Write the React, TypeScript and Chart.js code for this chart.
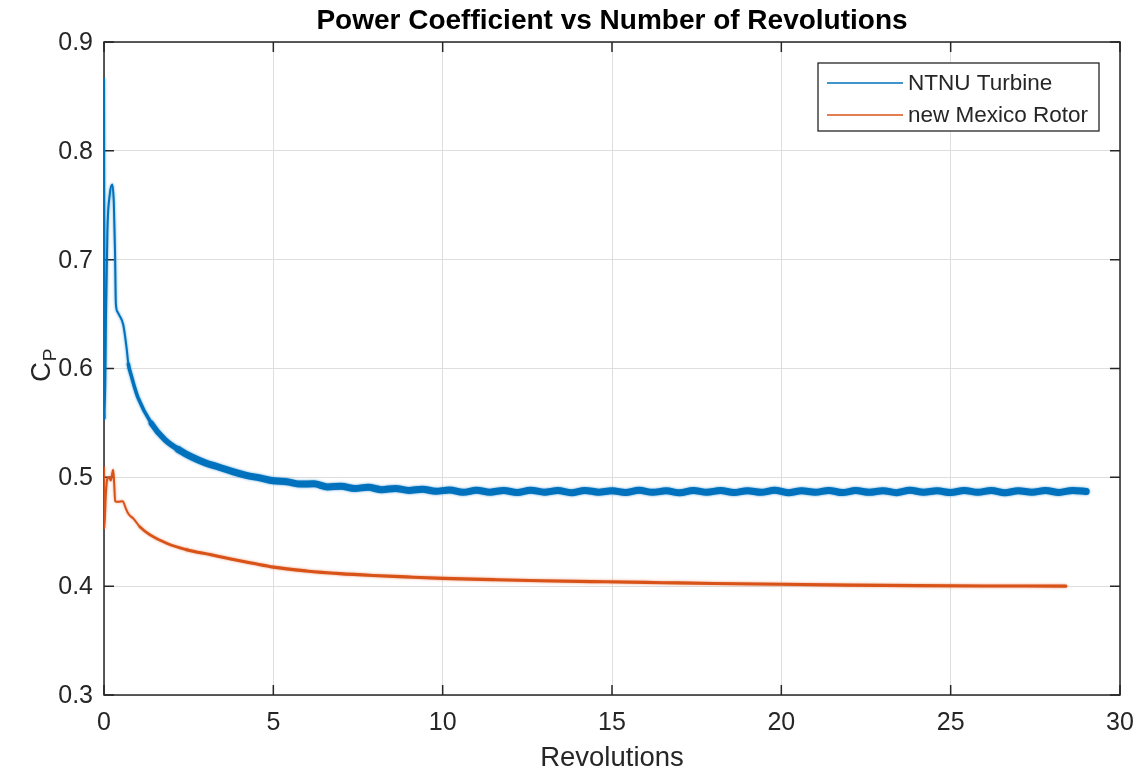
import React, { useEffect, useRef } from 'react';
import { Chart, registerables } from 'chart.js';

Chart.register(...registerables);

// NTNU turbine power coefficient against revolutions
const ntnuRev = [
  0.0, 0.02, 0.06, 0.1, 0.17, 0.245, 0.29, 0.325, 0.35, 0.4, 0.45, 0.57, 0.67, 0.72, 0.81, 0.9,
  1.0, 1.4, 1.8, 2.2, 2.6, 3.0, 3.4, 3.8, 4.2, 4.6,
  5.0, 5.4, 5.8, 6.2, 6.6, 7.0, 7.4, 7.8, 8.2, 8.6, 9.0, 9.4, 9.8,
  10.2, 10.6, 11.0, 11.4, 11.8, 12.2, 12.6, 13.0, 13.4, 13.8, 14.2, 14.6,
  15.0, 15.4, 15.8, 16.2, 16.6, 17.0, 17.4, 17.8, 18.2, 18.6, 19.0, 19.4, 19.8,
  20.2, 20.6, 21.0, 21.4, 21.8, 22.2, 22.6, 23.0, 23.4, 23.8, 24.2, 24.6,
  25.0, 25.4, 25.8, 26.2, 26.6, 27.0, 27.4, 27.8, 28.2, 28.6, 29.0,
];
const ntnuCp = [
  0.866, 0.553, 0.65, 0.726, 0.76, 0.769, 0.752, 0.708, 0.66, 0.652, 0.649, 0.64, 0.618, 0.604, 0.593, 0.583,
  0.5735, 0.5495, 0.5345, 0.5255, 0.5185, 0.5132, 0.5093, 0.5052, 0.5018, 0.4995,
  0.4968, 0.496, 0.4938, 0.494, 0.4912, 0.4918, 0.4898, 0.4908, 0.4887, 0.4898, 0.488, 0.489, 0.4872,
  0.4884, 0.4862, 0.4881, 0.4864, 0.4879, 0.486, 0.4882, 0.4863, 0.4878, 0.4859, 0.488, 0.4864,
  0.4877, 0.4861, 0.4881, 0.4862, 0.4876, 0.4858, 0.488, 0.4863, 0.4879, 0.486, 0.4877, 0.4862, 0.4881,
  0.4859, 0.4876, 0.4863, 0.488, 0.486, 0.4878, 0.4862, 0.4877, 0.4859, 0.4881, 0.4863, 0.4876,
  0.486, 0.4879, 0.4862, 0.488, 0.4858, 0.4877, 0.4863, 0.4879, 0.4861, 0.488, 0.487,
];

// New Mexico rotor power coefficient against revolutions
const mexicoRev = [
  0.0, 0.01, 0.05, 0.1, 0.15, 0.2, 0.27, 0.3, 0.33, 0.42, 0.55, 0.65, 0.72, 0.87,
  1.06, 1.36, 1.85, 2.44, 3.13, 3.82, 4.4, 5.0, 5.97, 6.96, 7.94, 8.92,
  10.0, 11.5, 12.9, 14.8, 16.5, 18.0, 20.0, 22.0, 24.0, 26.0, 28.4,
];
const mexicoCp = [
  0.509, 0.453, 0.482, 0.499, 0.5, 0.497, 0.507, 0.495, 0.478, 0.4775, 0.478, 0.471, 0.4665, 0.462,
  0.4545, 0.4472, 0.4395, 0.4335, 0.429, 0.4245, 0.421, 0.4175, 0.414, 0.4115, 0.4098, 0.4085,
  0.4072, 0.406, 0.405, 0.404, 0.4032, 0.4025, 0.4017, 0.401, 0.4005, 0.4002, 0.4,
];

const seriesNames = ['NTNU Turbine', 'new Mexico Rotor'];
const seriesColors = ['#0072BD', '#D95319'];
const seriesGlow = ['rgba(0,114,189,0.7)', 'rgba(217,83,25,0.6)'];

const xTicks = [0, 5, 10, 15, 20, 25, 30];
const xTickLabels = ['0', '5', '10', '15', '20', '25', '30'];
const yTicks = [0.3, 0.4, 0.5, 0.6, 0.7, 0.8, 0.9];
const yTickLabels = ['0.3', '0.4', '0.5', '0.6', '0.7', '0.8', '0.9'];

const titleText = 'Power Coefficient vs Number of Revolutions';
const xLabelText = 'Revolutions';

const AXIS_COLOR = '#262626';
const FONT = '"Liberation Sans", Arial, Helvetica, sans-serif';

const toPoints = (xs: number[], ys: number[]) => xs.map((x, i) => ({ x, y: ys[i] }));

// the simulated traces become a noisy band once the start-up transient is over
const ntnuWidth = (x: number) => (x < 0.7 ? 2 : x < 1.2 ? 3.5 : x < 2 ? 5.5 : 7);
const mexicoWidth = (x: number) => (x < 0.9 ? 2 : x < 2 ? 2.6 : 3.1);

// soft edge on the traces, like the fuzzy band of a dense noisy signal
const softTracePlugin = {
  id: 'softTrace',
  beforeDatasetDraw(chart: any, args: any) {
    const ctx = chart.ctx;
    ctx.save();
    ctx.shadowColor = seriesGlow[args.index];
    ctx.shadowBlur = 2.5;
  },
  afterDatasetDraw(chart: any) {
    chart.ctx.restore();
  },
};

const axesPlugin = {
  id: 'matlabAxes',
  beforeDatasetsDraw(chart: any) {
    const { ctx, chartArea: a, scales } = chart;
    ctx.save();
    ctx.strokeStyle = AXIS_COLOR;
    ctx.lineWidth = 1.5;
    ctx.strokeRect(a.left, a.top, a.right - a.left, a.bottom - a.top);
    ctx.beginPath();
    const tick = 10;
    xTicks.forEach((v) => {
      const px = scales.x.getPixelForValue(v);
      ctx.moveTo(px, a.bottom);
      ctx.lineTo(px, a.bottom - tick);
      ctx.moveTo(px, a.top);
      ctx.lineTo(px, a.top + tick);
    });
    yTicks.forEach((v) => {
      const py = scales.y.getPixelForValue(v);
      ctx.moveTo(a.left, py);
      ctx.lineTo(a.left + tick, py);
      ctx.moveTo(a.right, py);
      ctx.lineTo(a.right - tick, py);
    });
    ctx.stroke();
    ctx.restore();
  },
  afterDraw(chart: any) {
    const { ctx, chartArea: a, scales } = chart;
    ctx.save();
    ctx.fillStyle = AXIS_COLOR;

    // tick labels
    ctx.font = `25px ${FONT}`;
    ctx.textAlign = 'center';
    ctx.textBaseline = 'middle';
    xTicks.forEach((v, i) => {
      ctx.fillText(xTickLabels[i], scales.x.getPixelForValue(v), a.bottom + 28);
    });
    ctx.textAlign = 'right';
    yTicks.forEach((v, i) => {
      ctx.fillText(yTickLabels[i], a.left - 11, scales.y.getPixelForValue(v) + 1);
    });

    // title
    ctx.font = `bold 28px ${FONT}`;
    ctx.textAlign = 'center';
    ctx.textBaseline = 'middle';
    ctx.fillStyle = '#000000';
    ctx.fillText(titleText, (a.left + a.right) / 2, 21);

    // x-axis label
    ctx.fillStyle = AXIS_COLOR;
    ctx.font = `27.5px ${FONT}`;
    ctx.fillText(xLabelText, (a.left + a.right) / 2, a.bottom + 63);

    // y-axis label: C with subscript P
    ctx.save();
    ctx.translate(50, 382);
    ctx.rotate(-Math.PI / 2);
    ctx.textAlign = 'left';
    ctx.textBaseline = 'alphabetic';
    ctx.font = `27.5px ${FONT}`;
    ctx.fillText('C', 0, 0);
    const cw = ctx.measureText('C').width;
    ctx.font = `19px ${FONT}`;
    ctx.fillText('P', cw + 1, 6);
    ctx.restore();

    // legend box
    const lx = 818;
    const ly = 63;
    const lw = 281;
    const lh = 68;
    ctx.fillStyle = '#ffffff';
    ctx.fillRect(lx, ly, lw, lh);
    ctx.strokeStyle = AXIS_COLOR;
    ctx.lineWidth = 1.3;
    ctx.strokeRect(lx, ly, lw, lh);
    ctx.font = `22.5px ${FONT}`;
    ctx.textAlign = 'left';
    ctx.textBaseline = 'middle';
    seriesNames.forEach((name, i) => {
      const y = ly + 20 + i * 32;
      ctx.strokeStyle = seriesColors[i];
      ctx.lineWidth = 1.6;
      ctx.beginPath();
      ctx.moveTo(lx + 9, y);
      ctx.lineTo(lx + 85, y);
      ctx.stroke();
      ctx.fillStyle = AXIS_COLOR;
      ctx.fillText(name, lx + 90, y + 1);
    });
    ctx.restore();
  },
};

export default function App() {
  const canvasRef = useRef<HTMLCanvasElement | null>(null);

  useEffect(() => {
    document.body.style.margin = '0';
    const canvas = canvasRef.current;
    if (!canvas) return;
    const chart = new Chart(canvas, {
      type: 'line',
      data: {
        datasets: [
          {
            label: seriesNames[0],
            data: toPoints(ntnuRev, ntnuCp),
            borderColor: seriesColors[0],
            borderWidth: 2,
            pointRadius: 0,
            cubicInterpolationMode: 'monotone',
            borderJoinStyle: 'round',
            borderCapStyle: 'round',
            segment: { borderWidth: (c: any) => ntnuWidth(c.p0.parsed.x) },
          },
          {
            label: seriesNames[1],
            data: toPoints(mexicoRev, mexicoCp),
            borderColor: seriesColors[1],
            borderWidth: 2,
            pointRadius: 0,
            cubicInterpolationMode: 'monotone',
            borderJoinStyle: 'round',
            borderCapStyle: 'round',
            segment: { borderWidth: (c: any) => mexicoWidth(c.p0.parsed.x) },
          },
        ],
      },
      options: {
        responsive: false,
        animation: false,
        devicePixelRatio: 1,
        layout: { padding: { left: 104, top: 42, right: 20, bottom: 77 } },
        plugins: { legend: { display: false }, title: { display: false }, tooltip: { enabled: false } },
        scales: {
          x: {
            type: 'linear',
            min: 0,
            max: 30,
            ticks: { display: false, stepSize: 5 },
            grid: { color: '#dedede', lineWidth: 1, drawTicks: false },
            border: { display: false },
          },
          y: {
            type: 'linear',
            min: 0.3,
            max: 0.9,
            ticks: { display: false, stepSize: 0.1 },
            grid: { color: '#dedede', lineWidth: 1, drawTicks: false },
            border: { display: false },
          },
        },
      },
      plugins: [axesPlugin, softTracePlugin],
    });
    return () => chart.destroy();
  }, []);

  return (
    <div style={{ width: 1140, height: 772, background: '#ffffff' }}>
      <canvas ref={canvasRef} width={1140} height={772} style={{ display: 'block' }} />
    </div>
  );
}
